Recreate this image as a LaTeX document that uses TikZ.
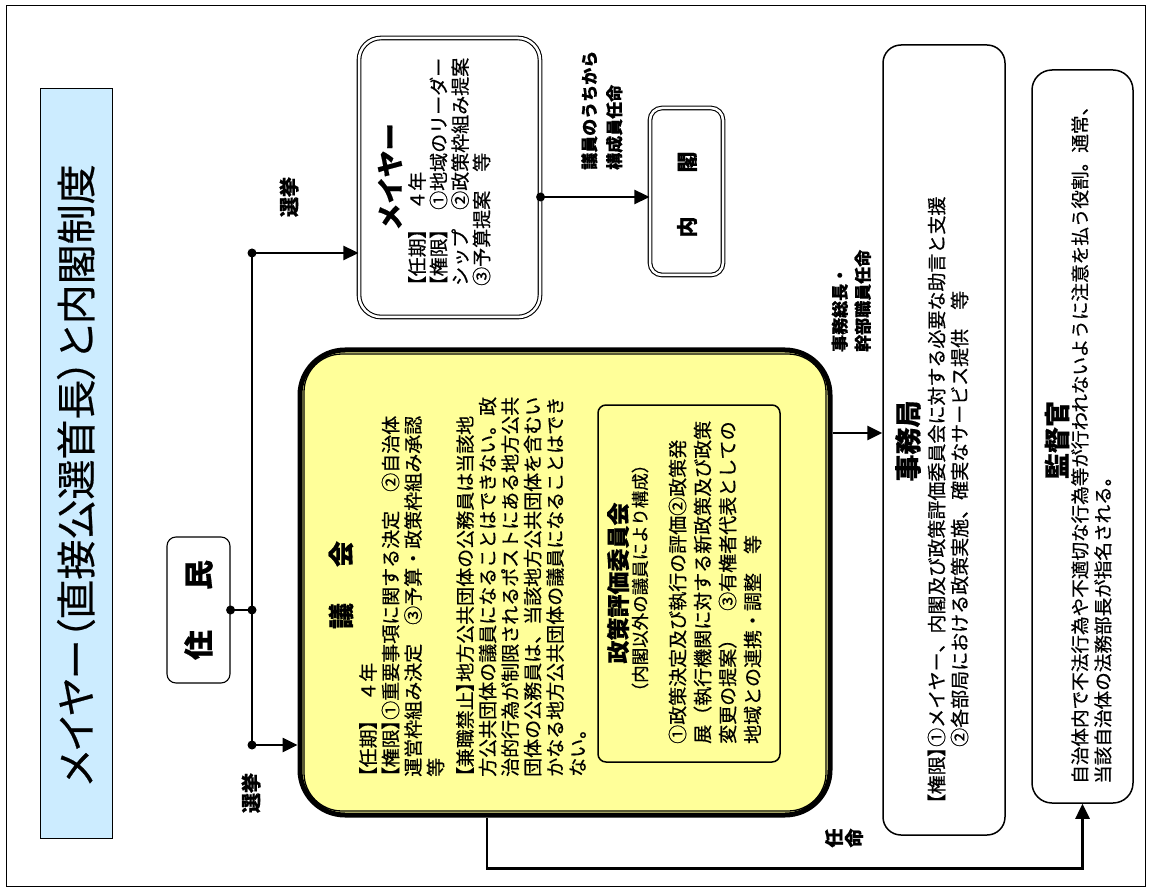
\documentclass[tikz,border=0pt]{standalone}
\usepackage{fontspec}
\setmainfont{Noto Sans CJK JP}[FakeBold=0.5]
\newfontfamily\jpp{Noto Sans CJK JP}[RawFeature=+palt,FakeBold=0.5]
\usetikzlibrary{arrows.meta,calc}
\definecolor{kyellow}{HTML}{FFFF99}
\definecolor{tblue}{HTML}{CCECFF}
\newcommand\lb{{\jpp 【}}
\newcommand\rb{{\jpp 】}}
\newcommand\fsz[2]{\fontsize{#1}{#2}\selectfont}
\begin{document}
\begin{tikzpicture}[x=1pt,y=-1pt,
 txt/.style={rotate=90, inner sep=0pt, align=left, anchor=north west},
 lbl/.style={rotate=90, inner sep=0pt, align=left, anchor=north west},
 conn/.style={line width=2.6pt},
 arr/.style={line width=2.6pt, -{Triangle[length=15pt,width=14pt]}},
 dot/.style={circle, fill=black, inner sep=0pt, minimum size=9pt},
 dbox/.style={draw, line width=1.1pt, double, double distance=2.5pt, fill=white, inner sep=0pt},
 sbox/.style={draw, line width=1.5pt, fill=white, inner sep=0pt},
 ]
\useasboundingbox (0,0) rectangle (1151,890);
\draw[line width=1pt] (6,6) rectangle (1145,886);

% boxes
\node (title) [draw, fill=tblue, line width=0.9pt, minimum width=72pt, minimum height=750pt, inner sep=0pt] at (76,463) {};
\node (jumin) [sbox, line width=1.1pt, rounded corners=9pt, minimum width=63pt, minimum height=146pt] at (198.5,610) {};
\node (gikai) [draw, line width=5pt, fill=kyellow, rounded corners=45pt, minimum width=530pt, minimum height=465pt, inner sep=0pt] at (565,582.5) {};
\draw[line width=1.3pt, rounded corners=38pt] ([shift={(6.5,6.5)}]gikai.north west) rectangle ([shift={(-6.5,-6.5)}]gikai.south east);
\node (seisaku) [sbox, fill=kyellow, rounded corners=8pt, minimum width=182pt, minimum height=357pt] at (689,583.5) {};
\node (mayor) [dbox, rounded corners=22pt, minimum width=181pt, minimum height=279pt] at (449.5,177.5) {};
\node (naikaku) [dbox, rounded corners=12pt, minimum width=73pt, minimum height=167pt] at (686.5,191.5) {};
\node (jimu) [sbox, rounded corners=18pt, minimum width=122pt, minimum height=790pt] at (944,440) {};
\node (kan) [sbox, rounded corners=20pt, minimum width=101pt, minimum height=733pt] at (1082.5,436.5) {};

% texts
\node (titletext) [rotate=90, font=\jpp\fsz{40}{42}] at (76,475) {メイヤー（直接公選首長）と内閣制度};
\node (jumintext) [rotate=90, font=\bfseries\fsz{30}{30}] at (jumin) {住\hspace{40pt}民};

\node (gikaititle) [rotate=90, font=\bfseries\fsz{26}{26}] at (341,585) {議\hspace{36pt}会};
\node (gikaibody) [txt, font=\fsz{19}{22.5}] at (359,777) {\lb{}任期\rb{}　４年\\
\lb{}権限\rb{}①重要事項に関する決定　②自治体\\
運営枠組み決定　③予算・政策枠組み承認\\
等\\[7pt]
\lb{}兼職禁止\rb{}地方公共団体の公務員は当該地\\
方公共団体の議員になることはできない。政\\
治的行為が制限されるポストにある地方公共\\
団体の公務員は、当該地方公共団体を含むい\\
かなる地方公共団体の議員になることはでき\\
ない。};

\node (seititle) [rotate=90, font=\bfseries\fsz{23}{23}] at (618,583) {政策評価委員会};
\node (seisub) [rotate=90, font=\fsz{17.5}{17.5}] at (640,578) {（内閣以外の議員により構成）};
\node (seibody) [txt, font=\fsz{19}{25}] at (668.5,744) {①政策決定及び執行の評価②政策発\\
展（執行機関に対する新政策及び政策\\
変更の提案）　③有権者代表としての\\
地域との連携・調整　等};

\node (mayortitle) [rotate=90, font=\bfseries\fsz{27}{27}] at (390,177) {メイヤー};
\node (mayorbody) [txt, font=\fsz{19}{21.5}] at (408,286) {\lb{}任期\rb{}　４年\\
\lb{}権限\rb{}　①地域のリーダー\\
シップ　②政策枠組み提案\\
③予算提案　等};

\node (naikakutext) [rotate=90, font=\bfseries\fsz{21}{21}] at (687,194.5) {内\hspace{44pt}閣};
\node (lbl1) [lbl, font=\bfseries\fsz{17}{25}] at (581,170) {議員のうちから\\構成員任命};

\node (jimutitle) [rotate=90, font=\bfseries\fsz{27}{27}] at (908,441) {事務局};
\node (jimubody) [txt, font=\fsz{19}{23}] at (927.5,804) {\lb{}権限\rb{}①メイヤー、内閣及び政策評価委員会に対する必要な助言と支援\\
\hphantom{\lb{}権限\rb{}}②各部局における政策実施、確実なサービス提供　等};
\node (lbl2) [lbl, font=\bfseries\fsz{17}{23}] at (831.5,352) {事務総長・\\幹部職員任命};

\node (kantitle) [rotate=90, font=\bfseries\fsz{26}{26}] at (1057,440) {監督官};
\node (kanbody) [txt, font=\fsz{18.6}{23}] at (1071,784) {自治体内で不法行為や不適切な行為等が行われないように注意を払う役割。通常、\\
当該自治体の法務部長が指名される。};

\node (senkyo1) [rotate=90, font=\bfseries\fsz{20}{20}] at (289,197) {選挙};
\node (senkyo2) [rotate=90, font=\bfseries\fsz{20}{20}] at (251,793) {選挙};
\node (nin) [rotate=90, font=\bfseries\fsz{19}{19}] at (834,838) {任};
\node (mei) [rotate=90, font=\bfseries\fsz{19}{19}] at (854,838) {命};

% connectors
\coordinate (vt) at (252,253);
\coordinate (vb) at (252,745);
\draw[conn] (vt) -- (vb);
\draw[arr] (vt) -- (vt -| mayor.west);
\draw[arr] (vb) -- (vb -| gikai.west);
\draw[conn] (jumin.east) -- (jumin.east -| vt);
\draw[arr] ([yshift=-19.5pt]mayor.east) coordinate (ms) -- (ms -| naikaku.west);
\draw[arr] ([yshift=149.5pt]gikai.east) coordinate (gs) -- (gs -| jimu.west);
\draw[arr] ([xshift=-78pt]gikai.south) -- ++(0,51) -| (kan.south);
\node (d1) [dot] at (vt) {};
\node (d2) [dot] at (vb) {};
\node (d3) [dot] at (jumin.east) {};
\node (d4) [dot] at (jumin.east -| vt) {};
\node (d5) [dot] at (ms) {};
\end{tikzpicture}
\end{document}
